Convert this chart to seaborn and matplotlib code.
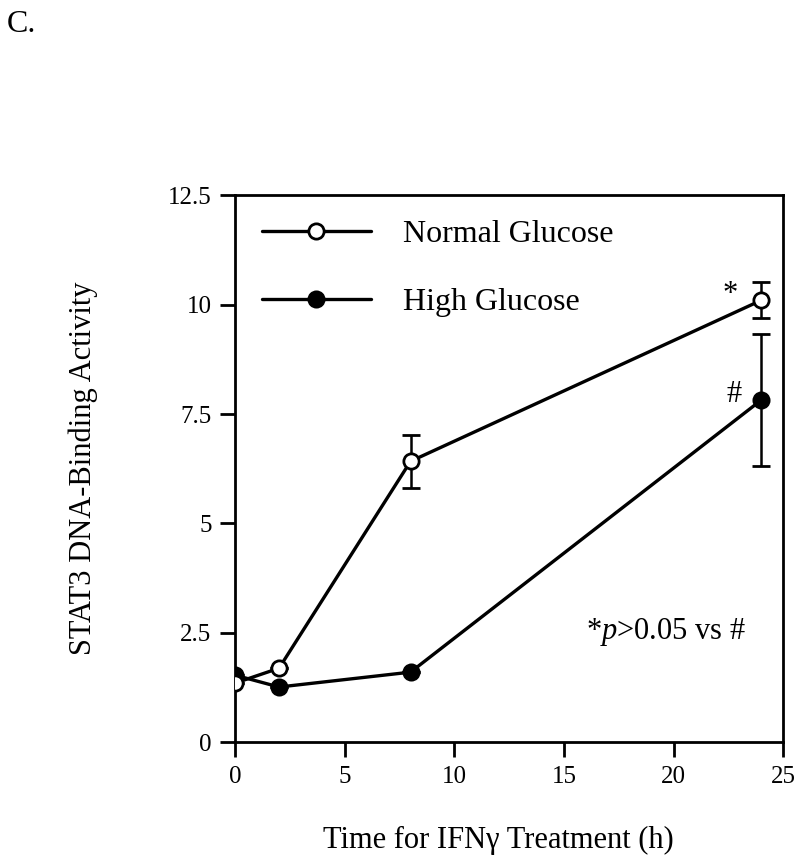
import numpy as np
import pandas as pd
import seaborn as sns
import matplotlib.pyplot as plt

# Données
time_h = [0, 2, 8, 24]
normal = [1.35, 1.69, 6.42, 10.1]
normal_err = [0, 0, 0.6, 0.41]
high = [1.53, 1.26, 1.60, 7.82]
high_err = [0, 0, 0, 1.5]

df = pd.DataFrame({
    'Time': time_h * 2,
    'Activity': normal + high,
    'Group': ['Normal Glucose'] * 4 + ['High Glucose'] * 4,
})

sns.set_style('ticks')
plt.rcParams['font.family'] = ['Liberation Serif', 'DejaVu Serif']
plt.rcParams['mathtext.fontset'] = 'custom'
plt.rcParams['mathtext.it'] = 'Liberation Serif:italic'
plt.rcParams['mathtext.rm'] = 'Liberation Serif'
for k in ['text.color', 'axes.labelcolor', 'xtick.color', 'ytick.color']:
    plt.rcParams[k] = 'black'

fig = plt.figure(figsize=(8, 8.68), dpi=100)
ax = fig.add_axes([0.294, 0.145, 0.685, 0.630])

sns.lineplot(data=df[df.Group == 'Normal Glucose'], x='Time', y='Activity', ax=ax,
             color='black', lw=2.4, marker='o', markersize=11, markerfacecolor='white',
             markeredgecolor='black', markeredgewidth=2, label='Normal Glucose', zorder=3)
sns.lineplot(data=df[df.Group == 'High Glucose'], x='Time', y='Activity', ax=ax,
             color='black', lw=2.4, marker='o', markersize=11, markerfacecolor='black',
             markeredgecolor='black', markeredgewidth=2, label='High Glucose', zorder=2)

# barres d'erreur
ax.errorbar(time_h, normal, yerr=normal_err, fmt='none', ecolor='black',
            elinewidth=1.8, capsize=6.5, capthick=2, zorder=1)
ax.errorbar(time_h, high, yerr=high_err, fmt='none', ecolor='black',
            elinewidth=1.8, capsize=6.5, capthick=2, zorder=1)

ax.set_xlim(0, 25)
ax.set_ylim(0, 12.5)
ax.set_xticks([0, 5, 10, 15, 20, 25])
ax.set_yticks([0, 2.5, 5, 7.5, 10, 12.5])
ax.set_yticklabels(['0', '2.5', '5', '7.5', '10', '12.5'])
ax.tick_params(direction='out', length=11, width=2, labelsize=18, pad=6)
for s in ax.spines.values():
    s.set_linewidth(2)
    s.set_color('black')

ax.set_xlabel('Time for IFNγ Treatment (h)', fontsize=22)
ax.set_ylabel('STAT3 DNA-Binding Activity', fontsize=22)
ax.xaxis.set_label_coords(0.48, -0.154)
ax.yaxis.set_label_coords(-0.25, 0.5)

ax.legend(loc='upper left', bbox_to_anchor=(0.049, 0.955), frameon=False, fontsize=23,
          handlelength=3.4, handletextpad=1.0, labelspacing=1.2,
          borderpad=0, borderaxespad=0)

ax.text(22.6, 10.24, '*', fontsize=22, ha='center', va='center')
ax.text(22.77, 7.95, '#', fontsize=22, ha='center', va='center')
ax.text(19.66, 2.51, r'*$\it{p}$>0.05 vs #', fontsize=22, ha='center', va='center')

fig.text(7 / 800, 1 - 32 / 868, 'C.', fontsize=23, va='baseline')

fig.savefig('out.png', dpi=100)
